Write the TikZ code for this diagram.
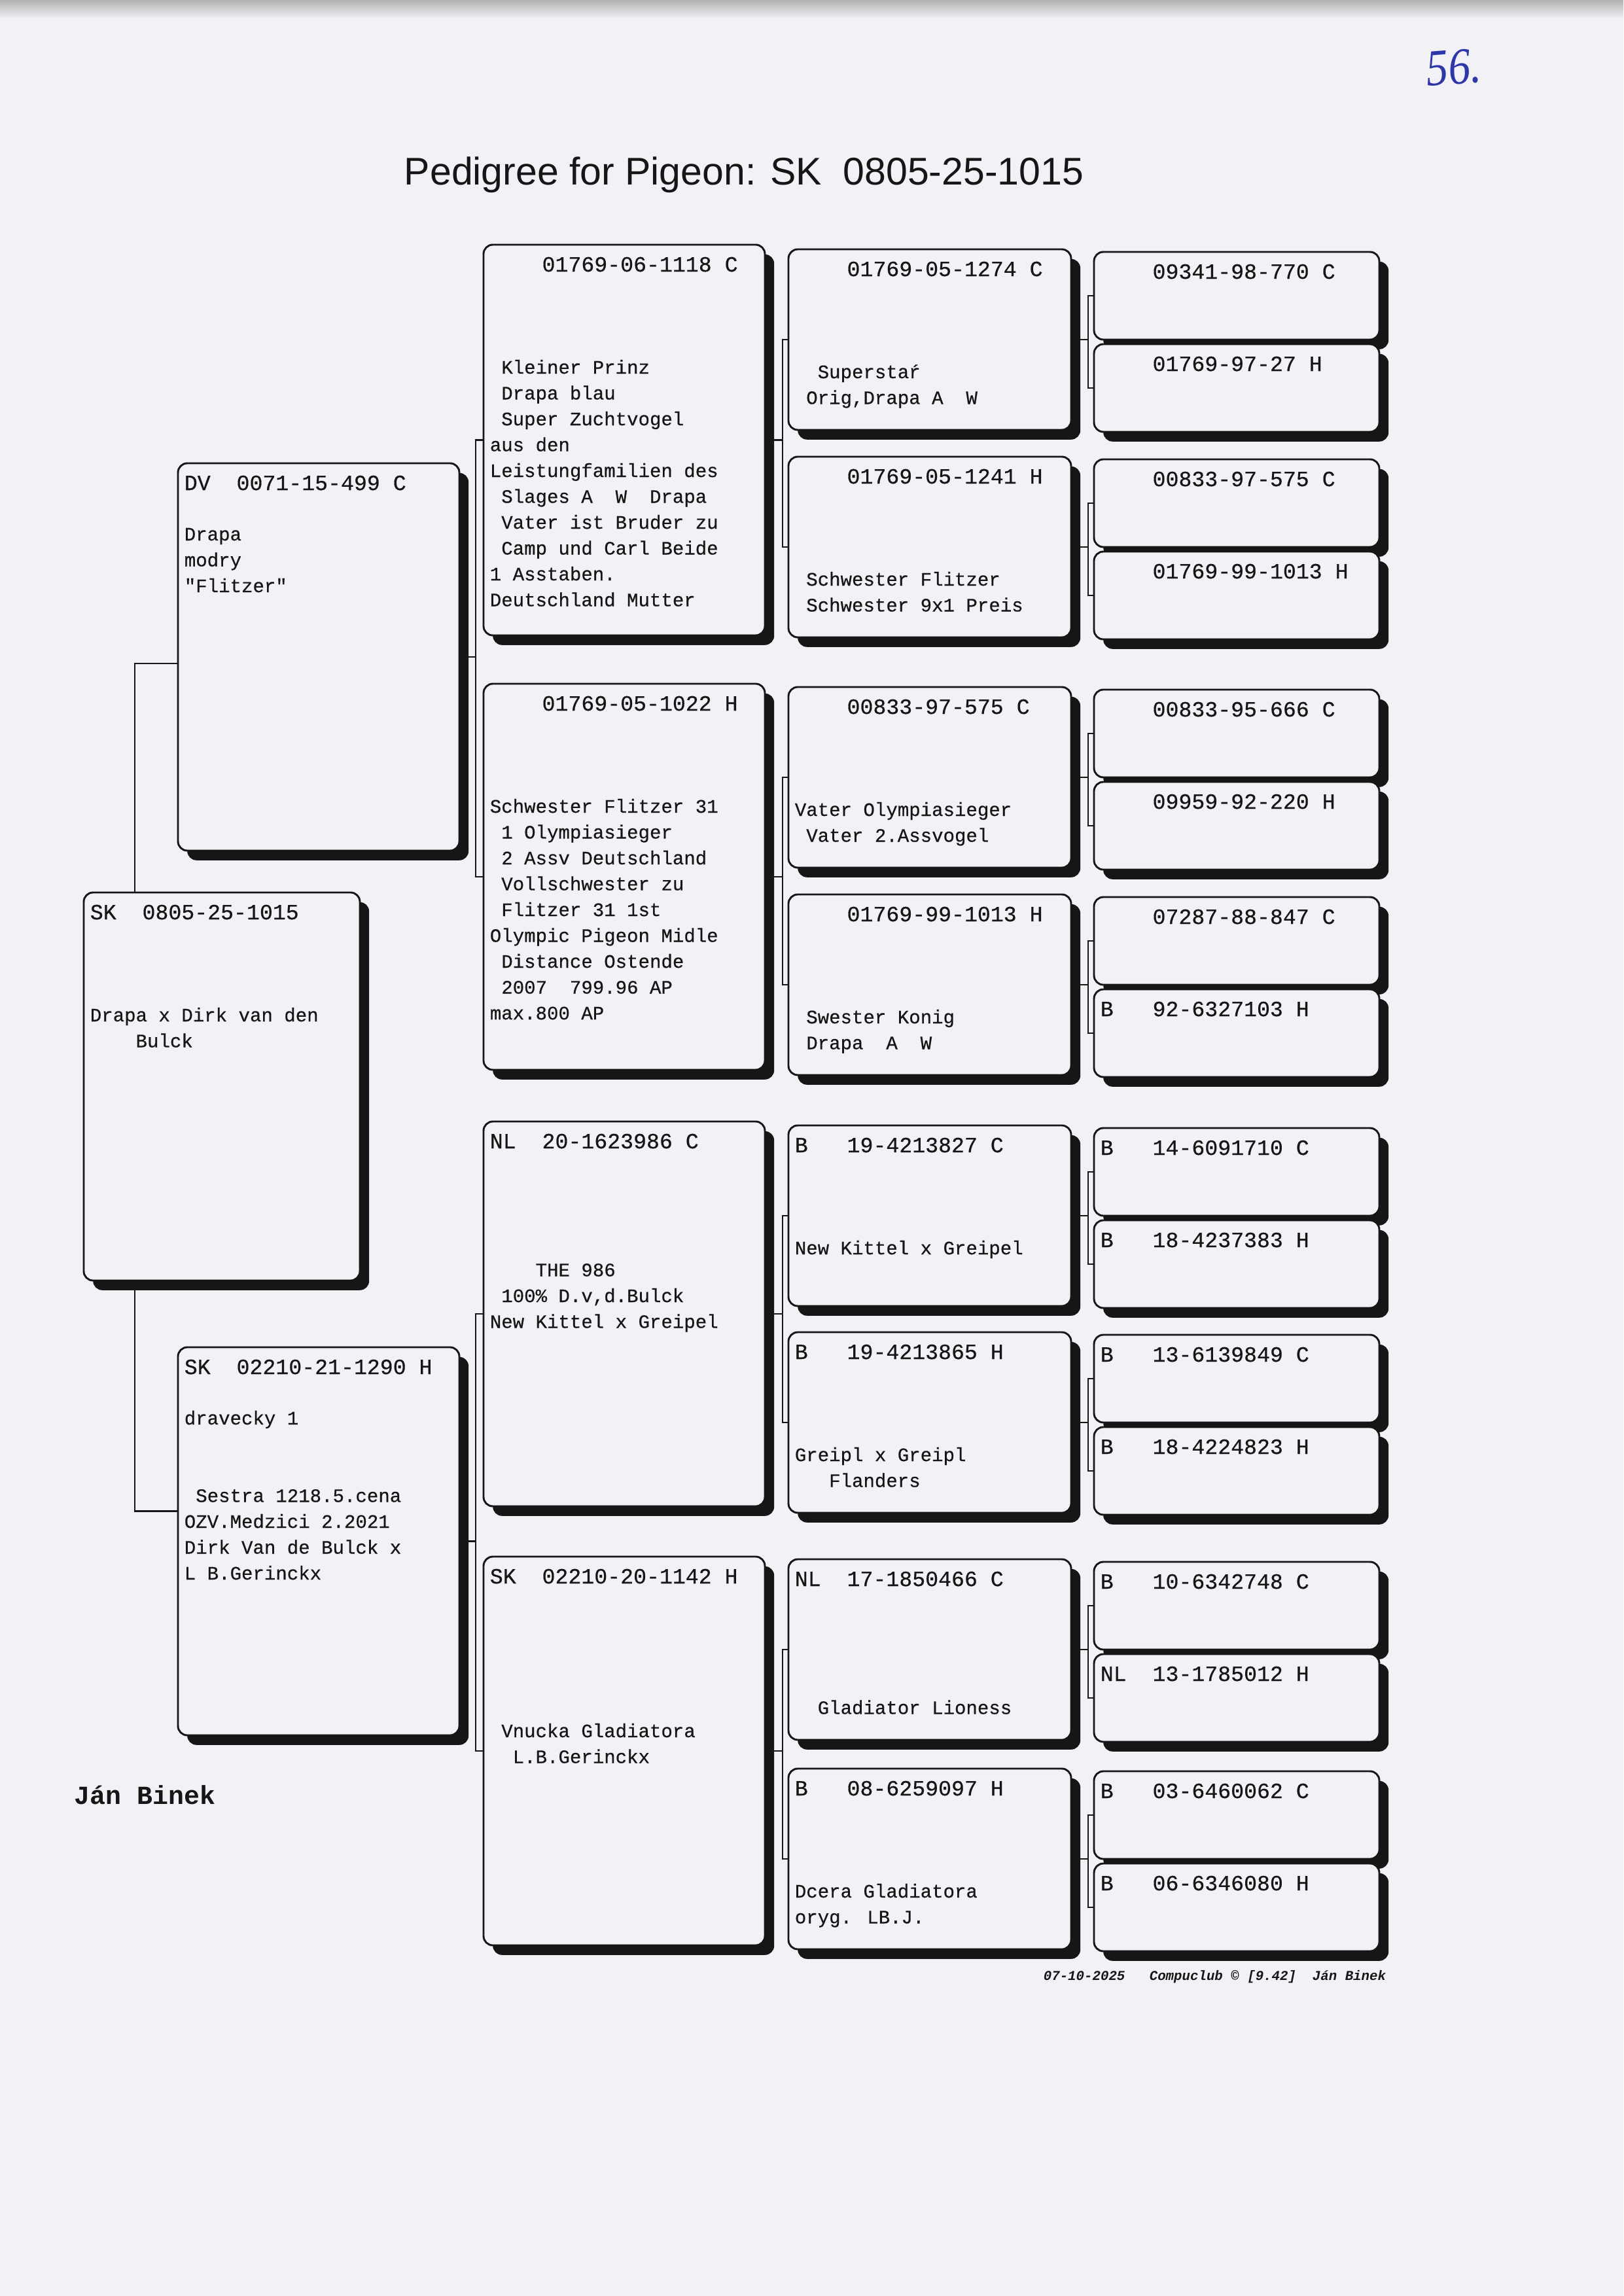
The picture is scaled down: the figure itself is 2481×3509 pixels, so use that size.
\documentclass[tikz,border=0pt]{standalone}
\usepackage{fontspec}
\setmainfont{Liberation Serif}
\newfontfamily\monof[FakeBold=0.5]{Liberation Mono}
\newfontfamily\monobf{Liberation Mono}
\newfontfamily\sansf{Liberation Sans}
\usetikzlibrary{calc,shadows}
\pgfdeclarelayer{paperl}
\pgfdeclarelayer{linesl}
\pgfsetlayers{paperl,linesl,main}
\definecolor{paper}{RGB}{241,241,246}
\definecolor{ink}{RGB}{22,22,22}
\definecolor{pen}{RGB}{45,55,170}
\tikzset{
  pbox/.style={draw=ink, line width=0.7pt, fill=paper, rounded corners=1.2mm,
    inner sep=0pt, outer sep=0pt, anchor=north west,
    drop shadow={shadow xshift=1.2mm, shadow yshift=-1.25mm, fill=ink, opacity=1}},
  ringtxt/.style={anchor=base west, inner sep=0pt, text=ink,
    font=\monof\fontsize{8}{9.5}\selectfont},
  notetxt/.style={anchor=base west, inner sep=0pt, text=ink,
    font=\monof\fontsize{7}{9.5}\selectfont},
  conn/.style={draw=ink, line width=0.5pt},
}
% name, x, top, width, height, ring
\newcommand\pgbox[6]{%
  \node[pbox, minimum width={#4*0.084644mm}, minimum height={#5*0.084644mm}] (#1) at (#2,#3) {};
  \node[ringtxt] (#1-r) at ($(#1.north west)+(9,41)$) {#6};
}
\newcommand\pgnotes[2]{%
  \foreach \k/\t in {#2}{\node[notetxt] (#1-n\k) at ($(#1.north west)+(9,{39+39.5*\k})$) {\t};}
}
% parent, top child, bottom child, x offset
\newcommand\pgbrk[4]{%
  \coordinate (#2-j) at ($(#2.west)+(#4,0)$);
  \begin{pgfonlayer}{linesl}
  \draw[conn] (#2.west) -- (#2-j) -- (#2-j |- #3.west) -- (#3.west);
  \draw[conn] (#1.east) -- (#1.east -| #2-j);
  \end{pgfonlayer}
}
\begin{document}
\begin{tikzpicture}[x=0.084644mm, y=-0.084644mm]
\useasboundingbox (0,0) rectangle (2481,3509);
\begin{pgfonlayer}{paperl}
\fill[paper] (0,0) rectangle (2481,3509);
\shade[top color=gray!60, bottom color=paper] (0,0) rectangle (2481,28);
\end{pgfonlayer}

\node[anchor=base, inner sep=0pt, font=\sansf\fontsize{14.2}{16}\selectfont, text=ink] (title) at (1137,282) {Pedigree for Pigeon: SK\ \ 0805-25-1015};
\node[anchor=center, inner sep=0pt, xscale=0.85, rotate=4, font=\itshape\fontsize{19}{22}\selectfont, text=pen] (pageno) at (2222,103) {56.};

% generation 1
\pgbox{s}{128}{1364}{422}{593}{SK~~0805-25-1015}
\pgnotes{s}{4/{Drapa x Dirk van den}, 5/{~~~~Bulck}}

% generation 2
\pgbox{p1}{272}{708}{430}{592}{DV~~0071-15-499 C}
\pgnotes{p1}{2/{Drapa}, 3/{modry}, 4/{"Flitzer"}}
\pgbox{p2}{272}{2059}{430}{593}{SK~~02210-21-1290 H}
\pgnotes{p2}{2/{dravecky 1}, 5/{~Sestra 1218.5.cena}, 6/{OZV.Medzici 2.2021}, 7/{Dirk Van de Bulck x}, 8/{L B.Gerinckx}}

% generation 3
\pgbox{g1}{739}{374}{430}{597}{~~~~01769-06-1118 C}
\pgnotes{g1}{4/{~Kleiner Prinz}, 5/{~Drapa blau}, 6/{~Super Zuchtvogel}, 7/{aus den}, 8/{Leistungfamilien des}, 9/{~Slages A~~W~~Drapa}, 10/{~Vater ist Bruder zu}, 11/{~Camp und Carl Beide}, 12/{1 Asstaben.}, 13/{Deutschland Mutter}}
\pgbox{g2}{739}{1045}{430}{590}{~~~~01769-05-1022 H}
\pgnotes{g2}{4/{Schwester Flitzer 31}, 5/{~1 Olympiasieger}, 6/{~2 Assv Deutschland}, 7/{~Vollschwester zu}, 8/{~Flitzer 31 1st}, 9/{Olympic Pigeon Midle}, 10/{~Distance Ostende}, 11/{~2007~~799.96 AP}, 12/{max.800 AP}}
\pgbox{g3}{739}{1714}{430}{588}{NL~~20-1623986 C}
\pgnotes{g3}{5/{~~~~THE 986}, 6/{~100\% D.v,d.Bulck}, 7/{New Kittel x Greipel}}
\pgbox{g4}{739}{2379}{430}{594}{SK~~02210-20-1142 H}
\pgnotes{g4}{6/{~Vnucka Gladiatora}, 7/{~~L.B.Gerinckx}}

% generation 4
\pgbox{c1}{1205}{381}{432}{276}{~~~~01769-05-1274 C}
\pgnotes{c1}{4/{~~Superstaŕ}, 5/{~Orig,Drapa A~~W}}
\pgbox{c2}{1205}{698}{432}{276}{~~~~01769-05-1241 H}
\pgnotes{c2}{4/{~Schwester Flitzer}, 5/{~Schwester 9x1 Preis}}
\pgbox{c3}{1205}{1050}{432}{276}{~~~~00833-97-575 C}
\pgnotes{c3}{4/{Vater Olympiasieger}, 5/{~Vater 2.Assvogel}}
\pgbox{c4}{1205}{1367}{432}{276}{~~~~01769-99-1013 H}
\pgnotes{c4}{4/{~Swester Konig}, 5/{~Drapa~~A~~W}}
\pgbox{c5}{1205}{1720}{432}{276}{B~~~19-4213827 C}
\pgnotes{c5}{4/{New Kittel x Greipel}}
\pgbox{c6}{1205}{2036}{432}{276}{B~~~19-4213865 H}
\pgnotes{c6}{4/{Greipl x Greipl}, 5/{~~~Flanders}}
\pgbox{c7}{1205}{2383}{432}{276}{NL~~17-1850466 C}
\pgnotes{c7}{5/{~~Gladiator Lioness}}
\pgbox{c8}{1205}{2703}{432}{276}{B~~~08-6259097 H}
\pgnotes{c8}{4/{Dcera Gladiatora}, 5/{oryg. LB.J.}}

% generation 5
\pgbox{d1}{1672}{385}{436}{134}{~~~~09341-98-770 C}
\pgbox{d2}{1672}{526}{436}{134}{~~~~01769-97-27 H}
\pgbox{d3}{1672}{702}{436}{134}{~~~~00833-97-575 C}
\pgbox{d4}{1672}{843}{436}{134}{~~~~01769-99-1013 H}
\pgbox{d5}{1672}{1054}{436}{134}{~~~~00833-95-666 C}
\pgbox{d6}{1672}{1195}{436}{134}{~~~~09959-92-220 H}
\pgbox{d7}{1672}{1371}{436}{134}{~~~~07287-88-847 C}
\pgbox{d8}{1672}{1512}{436}{134}{B~~~92-6327103 H}
\pgbox{d9}{1672}{1724}{436}{134}{B~~~14-6091710 C}
\pgbox{d10}{1672}{1865}{436}{134}{B~~~18-4237383 H}
\pgbox{d11}{1672}{2040}{436}{134}{B~~~13-6139849 C}
\pgbox{d12}{1672}{2181}{436}{134}{B~~~18-4224823 H}
\pgbox{d13}{1672}{2387}{436}{134}{B~~~10-6342748 C}
\pgbox{d14}{1672}{2528}{436}{134}{NL~~13-1785012 H}
\pgbox{d15}{1672}{2707}{436}{134}{B~~~03-6460062 C}
\pgbox{d16}{1672}{2848}{436}{134}{B~~~06-6346080 H}

% connectors
\coordinate (sj) at (206,0);
\coordinate (pa) at ($(p1.west)+(0,10)$);
\coordinate (pb) at ($(p2.west)+(0,-46)$);
\begin{pgfonlayer}{linesl}
\draw[conn] (pa) -- (pa -| sj) -- (pb -| sj) -- (pb);
\end{pgfonlayer}
\pgbrk{p1}{g1}{g2}{-12}
\pgbrk{p2}{g3}{g4}{-12}
\pgbrk{g1}{c1}{c2}{-9}
\pgbrk{g2}{c3}{c4}{-9}
\pgbrk{g3}{c5}{c6}{-9}
\pgbrk{g4}{c7}{c8}{-9}
\pgbrk{c1}{d1}{d2}{-9}
\pgbrk{c2}{d3}{d4}{-9}
\pgbrk{c3}{d5}{d6}{-9}
\pgbrk{c4}{d7}{d8}{-9}
\pgbrk{c5}{d9}{d10}{-9}
\pgbrk{c6}{d11}{d12}{-9}
\pgbrk{c7}{d13}{d14}{-9}
\pgbrk{c8}{d15}{d16}{-9}

% owner and footer
\node[anchor=base west, inner sep=0pt, text=ink, font=\monobf\bfseries\fontsize{9.6}{11}\selectfont] (owner) at (113,2757) {Ján Binek};
\node[anchor=base west, inner sep=0pt, text=ink, font=\monobf\bfseries\itshape\fontsize{5}{6}\selectfont] (footer) at (1594,3026) {07-10-2025~~~Compuclub © [9.42]~~Ján Binek};
\end{tikzpicture}
\end{document}
